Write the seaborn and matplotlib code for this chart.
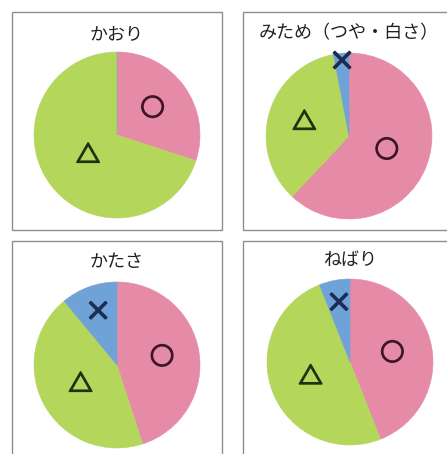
import numpy as np
import matplotlib
matplotlib.use("Agg")
import matplotlib.pyplot as plt
import matplotlib.patheffects as pe
from matplotlib.patches import Rectangle
import seaborn as sns

# Survey results: share of answers per rating, for each quality item
titles = ["かおり", "みため（つや・白さ）", "かたさ", "ねばり"]
symbols = ["○", "△", "×"]
circle_share = [30, 62, 45, 44]
triangle_share = [70, 35, 44, 50]
cross_share = [0, 3, 11, 6]

sns.set_theme(style="white")
plt.rcParams["font.family"] = ["Noto Sans CJK JP", "DejaVu Sans"]

wedge_colors = ["#E58BA7", "#B4D65B", "#6FA2D6"]
symbol_colors = ["#3E1628", "#1F3312", "#1C2C52"]

W, H = 447, 454
fig = plt.figure(figsize=(W / 100, H / 100), dpi=100)
fig.patch.set_facecolor("white")

# panel layout in pixels: box left, box top, pie centre x, pie centre y, title y
panels = [
    (11.5, 12.0, 117, 135, 34),
    (243.0, 12.0, 349, 136, 33),
    (11.5, 241.0, 117, 365, 262),
    (243.0, 241.0, 350, 362, 260),
]
box_w, box_h = 210.5, 217.5
radius_px = 83
# radial placement of the ○ / △ / × marks inside each pie
label_r = [(0.53, 0.43, 0.80), (0.49, 0.56, 0.89), (0.55, 0.50, 0.67), (0.52, 0.51, 0.71)]
label_size = [17, 17, 19]

for i, (bx, by, cx, cy, ty) in enumerate(panels):
    fig.add_artist(Rectangle((bx / W, 1 - (by + box_h) / H), box_w / W, box_h / H,
                             transform=fig.transFigure, fill=False,
                             edgecolor="#8E8E8E", linewidth=1.0))
    fig.text(cx / W, 1 - ty / H, titles[i], ha="center", va="center",
             fontsize=13, color="#222222")

    ax = fig.add_axes([(cx - radius_px) / W, 1 - (cy + radius_px) / H,
                       2 * radius_px / W, 2 * radius_px / H])
    values = [circle_share[i], triangle_share[i], cross_share[i]]
    wedges, _ = ax.pie(values, colors=wedge_colors, startangle=90, counterclock=False,
                       wedgeprops=dict(linewidth=0.4))
    for w, c in zip(wedges, wedge_colors):
        w.set_edgecolor(c)
    for k, (w, v) in enumerate(zip(wedges, values)):
        if v <= 0:
            continue
        mid = np.deg2rad((w.theta1 + w.theta2) / 2)
        r = label_r[i][k]
        ax.text(r * np.cos(mid), r * np.sin(mid), symbols[k], ha="center", va="center",
                fontsize=label_size[k], color=symbol_colors[k],
                path_effects=[pe.withStroke(linewidth=1.3, foreground=symbol_colors[k])])
    ax.set_xlim(-1, 1)
    ax.set_ylim(-1, 1)
    ax.set_aspect("equal")
    ax.axis("off")

fig.savefig("out.png", dpi=100, facecolor="white")
